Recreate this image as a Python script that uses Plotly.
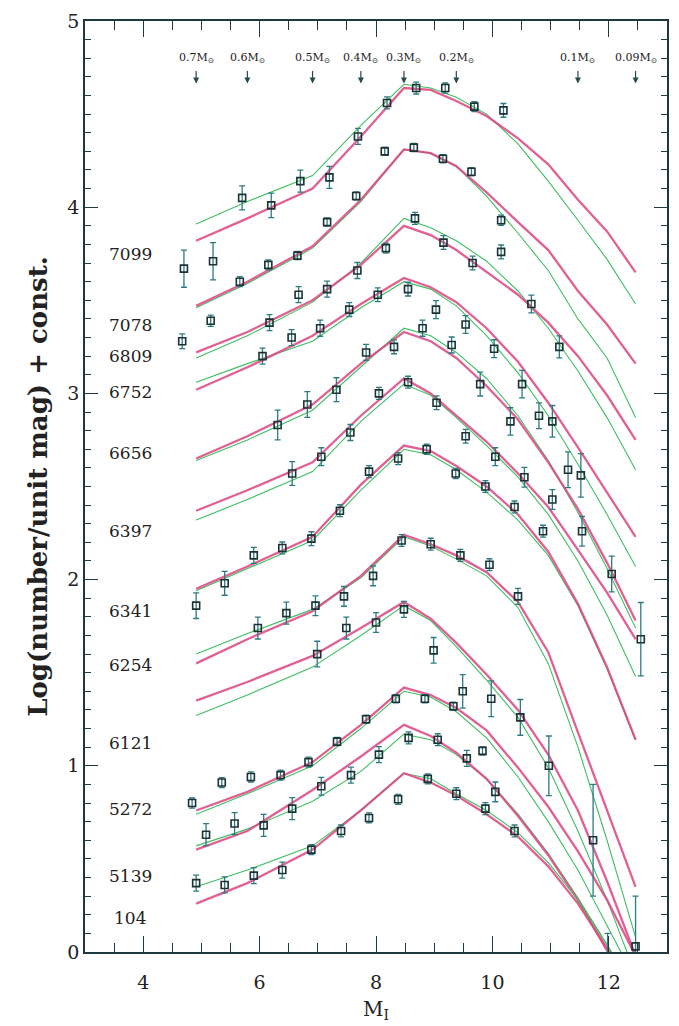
import plotly.graph_objects as go

# model grid (M_I) shared by all model curves
model_mag = [4.91, 5.79, 6.91, 7.74, 8.48, 8.94, 9.38, 9.90, 10.44, 10.96, 11.47, 11.97, 12.46]

# ---- NGC 7099
mag_7099 = [4.70, 5.20, 5.70, 6.20, 6.70, 7.20, 7.69, 8.19, 8.69, 9.19, 9.69, 10.19]
lf_7099 = [3.67, 3.71, 4.05, 4.01, 4.14, 4.16, 4.38, 4.56, 4.64, 4.64, 4.54, 4.52]
err_7099 = [0.10, 0.10, 0.064, 0.066, 0.059, 0.059, 0.043, 0.032, 0.032, 0.027, 0.027, 0.037]
red_7099 = [3.82, 3.94, 4.10, 4.38, 4.64, 4.63, 4.57, 4.49, 4.37, 4.23, 4.04, 3.87, 3.65]
green_7099 = [3.91, 4.03, 4.17, 4.44, 4.66, 4.64, 4.59, 4.50, 4.34, 4.14, 3.93, 3.72, 3.48]

# ---- NGC 7078
mag_7078 = [4.67, 5.16, 5.66, 6.15, 6.65, 7.16, 7.66, 8.15, 8.65, 9.15, 9.64, 10.15]
lf_7078 = [3.28, 3.39, 3.60, 3.69, 3.74, 3.92, 4.06, 4.30, 4.32, 4.26, 4.19, 3.93]
err_7078 = [0.04, 0.03, 0.027, 0.027, 0.022, 0.022, 0.022, 0.022, 0.022, 0.022, 0.022, 0.027]
red_7078 = [3.47, 3.60, 3.79, 4.04, 4.31, 4.29, 4.22, 4.08, 3.92, 3.77, 3.55, 3.37, 3.16]
green_7078 = [3.46, 3.59, 3.78, 4.03, 4.31, 4.29, 4.22, 4.06, 3.86, 3.66, 3.40, 3.19, 2.87]

# ---- NGC 6809
mag_6809 = [6.17, 6.67, 7.16, 7.68, 8.17, 8.67, 9.16, 9.66, 10.15, 10.67, 11.15]
lf_6809 = [3.38, 3.53, 3.56, 3.66, 3.78, 3.94, 3.81, 3.70, 3.76, 3.48, 3.25]
err_6809 = [0.043, 0.043, 0.043, 0.043, 0.027, 0.032, 0.037, 0.037, 0.037, 0.048, 0.059]
red_6809 = [3.22, 3.33, 3.50, 3.69, 3.90, 3.85, 3.77, 3.65, 3.53, 3.38, 3.20, 2.99, 2.75]
green_6809 = [3.19, 3.31, 3.49, 3.70, 3.94, 3.89, 3.82, 3.71, 3.55, 3.35, 3.12, 2.87, 2.59]

# ---- NGC 6752
mag_6752 = [6.05, 6.55, 7.04, 7.54, 8.03, 8.55, 9.03, 9.54, 10.03, 10.51, 11.03, 11.52]
lf_6752 = [3.20, 3.30, 3.35, 3.45, 3.53, 3.56, 3.45, 3.37, 3.24, 3.05, 2.85, 2.56]
err_6752 = [0.043, 0.043, 0.043, 0.037, 0.037, 0.037, 0.048, 0.048, 0.048, 0.074, 0.085, 0.117]
red_6752 = [3.02, 3.14, 3.31, 3.48, 3.62, 3.57, 3.49, 3.35, 3.17, 2.95, 2.71, 2.47, 2.23]
green_6752 = [3.06, 3.16, 3.28, 3.46, 3.60, 3.56, 3.47, 3.31, 3.11, 2.88, 2.62, 2.35, 2.07]

# ---- NGC 6656
mag_6656 = [6.31, 6.82, 7.32, 7.83, 8.31, 8.80, 9.30, 9.79, 10.31, 10.80, 11.30]
lf_6656 = [2.83, 2.94, 3.02, 3.22, 3.25, 3.35, 3.26, 3.05, 2.85, 2.88, 2.59]
err_6656 = [0.08, 0.069, 0.064, 0.043, 0.037, 0.043, 0.043, 0.064, 0.074, 0.069, 0.096]
red_6656 = [2.65, 2.77, 2.94, 3.16, 3.33, 3.28, 3.19, 3.04, 2.86, 2.63, 2.38, 2.09, 1.78]
green_6656 = [2.64, 2.75, 2.91, 3.14, 3.35, 3.31, 3.22, 3.08, 2.88, 2.64, 2.36, 2.06, 1.74]

# ---- NGC 6397
mag_6397 = [6.56, 7.06, 7.56, 8.05, 8.55, 9.04, 9.54, 10.05, 10.55, 11.03, 11.54, 12.05, 12.55]
lf_6397 = [2.57, 2.66, 2.79, 3.00, 3.06, 2.95, 2.77, 2.66, 2.55, 2.43, 2.26, 2.03, 1.68]
err_6397 = [0.064, 0.048, 0.043, 0.032, 0.032, 0.037, 0.037, 0.048, 0.053, 0.053, 0.08, 0.096, 0.197]
red_6397 = [2.37, 2.48, 2.63, 2.88, 3.08, 3.00, 2.88, 2.74, 2.57, 2.39, 2.16, 1.93, 1.68]
green_6397 = [2.32, 2.43, 2.58, 2.85, 3.05, 2.99, 2.87, 2.72, 2.55, 2.35, 2.10, 1.81, 1.48]

# ---- NGC 6341
mag_6341 = [4.91, 5.40, 5.90, 6.39, 6.89, 7.38, 7.88, 8.38, 8.87, 9.37, 9.88, 10.38, 10.87]
lf_6341 = [1.86, 1.98, 2.13, 2.17, 2.22, 2.37, 2.58, 2.65, 2.70, 2.57, 2.50, 2.39, 2.26]
err_6341 = [0.069, 0.064, 0.043, 0.032, 0.037, 0.032, 0.032, 0.032, 0.027, 0.027, 0.032, 0.032, 0.032]
red_6341 = [1.95, 2.07, 2.23, 2.51, 2.72, 2.69, 2.61, 2.50, 2.35, 2.15, 1.87, 1.53, 1.14]
green_6341 = [1.94, 2.06, 2.21, 2.48, 2.70, 2.67, 2.59, 2.47, 2.32, 2.13, 1.86, 1.52, 1.14]

# ---- NGC 6254
mag_6254 = [5.97, 6.46, 6.96, 7.45, 7.95, 8.44, 8.94, 9.45, 9.95, 10.44]
lf_6254 = [1.74, 1.82, 1.86, 1.91, 2.02, 2.21, 2.19, 2.13, 2.08, 1.91]
err_6254 = [0.059, 0.059, 0.053, 0.053, 0.053, 0.032, 0.032, 0.032, 0.032, 0.043]
red_6254 = [1.55, 1.68, 1.83, 2.02, 2.24, 2.19, 2.13, 2.04, 1.88, 1.61, 1.18, 0.76, 0.35]
green_6254 = [1.60, 1.71, 1.84, 2.01, 2.23, 2.18, 2.11, 2.02, 1.85, 1.55, 1.10, 0.60, 0.08]

# ---- NGC 6121
mag_6121 = [6.99, 7.49, 8.00, 8.48, 8.99, 9.49, 9.98, 10.48, 10.97, 11.73]
lf_6121 = [1.60, 1.74, 1.77, 1.84, 1.62, 1.40, 1.36, 1.26, 1.00, 0.60]
err_6121 = [0.069, 0.059, 0.053, 0.043, 0.069, 0.09, 0.096, 0.096, 0.16, 0.30]
red_6121 = [1.35, 1.45, 1.59, 1.74, 1.88, 1.79, 1.66, 1.49, 1.30, 1.06, 0.76, 0.38, -0.02]
green_6121 = [1.27, 1.38, 1.53, 1.70, 1.86, 1.78, 1.64, 1.46, 1.26, 0.99, 0.65, 0.28, -0.12]

# ---- NGC 5272
mag_5272 = [4.84, 5.35, 5.85, 6.36, 6.84, 7.33, 7.83, 8.34, 8.84, 9.33, 9.83]
lf_5272 = [0.80, 0.91, 0.94, 0.95, 1.02, 1.13, 1.25, 1.36, 1.36, 1.32, 1.08]
err_5272 = [0.027, 0.027, 0.027, 0.027, 0.027, 0.022, 0.022, 0.022, 0.022, 0.022, 0.022]
red_5272 = [0.76, 0.86, 1.02, 1.22, 1.42, 1.38, 1.31, 1.19, 0.99, 0.78, 0.54, 0.28, -0.02]
green_5272 = [0.74, 0.85, 1.00, 1.20, 1.40, 1.37, 1.29, 1.15, 0.94, 0.70, 0.44, 0.14, -0.15]

# ---- NGC 5139
mag_5139 = [5.08, 5.57, 6.07, 6.56, 7.06, 7.57, 8.05, 8.56, 9.06, 9.56, 10.05, 11.98]
lf_5139 = [0.63, 0.69, 0.68, 0.77, 0.89, 0.95, 1.06, 1.15, 1.14, 1.04, 0.86, -0.05]
err_5139 = [0.059, 0.059, 0.059, 0.059, 0.048, 0.043, 0.043, 0.032, 0.032, 0.043, 0.053, 0.15]
red_5139 = [0.55, 0.65, 0.87, 1.05, 1.22, 1.16, 1.07, 0.93, 0.73, 0.52, 0.28, 0.01, -0.26]
green_5139 = [0.57, 0.66, 0.81, 0.97, 1.17, 1.14, 1.06, 0.93, 0.74, 0.53, 0.29, 0.04, -0.23]

# ---- NGC 104
mag_104 = [4.91, 5.40, 5.90, 6.39, 6.89, 7.40, 7.88, 8.38, 8.89, 9.38, 9.88, 10.38, 12.46]
lf_104 = [0.37, 0.36, 0.41, 0.44, 0.55, 0.65, 0.72, 0.82, 0.93, 0.85, 0.77, 0.65, 0.03]
err_104 = [0.043, 0.043, 0.043, 0.043, 0.027, 0.032, 0.027, 0.027, 0.027, 0.032, 0.032, 0.032, 0.27]
red_104 = [0.26, 0.37, 0.55, 0.76, 0.96, 0.91, 0.84, 0.74, 0.62, 0.46, 0.26, 0.02, -0.23]
green_104 = [0.35, 0.44, 0.57, 0.76, 0.96, 0.93, 0.85, 0.76, 0.64, 0.48, 0.28, 0.04, -0.20]

cluster_names = ["7099", "7078", "6809", "6752", "6656", "6397",
                 "6341", "6254", "6121", "5272", "5139", "104"]
label_lf = [3.75, 3.37, 3.20, 3.01, 2.68, 2.26, 1.83, 1.54, 1.12, 0.77, 0.41, 0.18]
label_mag = 3.78

mass_labels = ["0.7", "0.6", "0.5", "0.4", "0.3", "0.2", "0.1", "0.09"]
mass_mag = [4.91, 5.79, 6.91, 7.74, 8.48, 9.38, 11.47, 12.46]

series = [
    (mag_7099, lf_7099, err_7099, red_7099, green_7099),
    (mag_7078, lf_7078, err_7078, red_7078, green_7078),
    (mag_6809, lf_6809, err_6809, red_6809, green_6809),
    (mag_6752, lf_6752, err_6752, red_6752, green_6752),
    (mag_6656, lf_6656, err_6656, red_6656, green_6656),
    (mag_6397, lf_6397, err_6397, red_6397, green_6397),
    (mag_6341, lf_6341, err_6341, red_6341, green_6341),
    (mag_6254, lf_6254, err_6254, red_6254, green_6254),
    (mag_6121, lf_6121, err_6121, red_6121, green_6121),
    (mag_5272, lf_5272, err_5272, red_5272, green_5272),
    (mag_5139, lf_5139, err_5139, red_5139, green_5139),
    (mag_104, lf_104, err_104, red_104, green_104),
]

RED = "rgba(220,68,128,0.85)"
GREEN = "#3fbf60"
DARK = "#1c3234"
ERR = "#2c7b82"
FONT = "DejaVu Serif"

fig = go.Figure()
for mag, lf, err, red, green in series:
    fig.add_trace(go.Scatter(x=model_mag, y=green, mode="lines",
                             line=dict(color=GREEN, width=1.1),
                             showlegend=False, hoverinfo="skip"))
    fig.add_trace(go.Scatter(x=model_mag, y=red, mode="lines",
                             line=dict(color=RED, width=2.3),
                             showlegend=False, hoverinfo="skip"))
for (mag, lf, err, red, green), name in zip(series, cluster_names):
    fig.add_trace(go.Scatter(x=mag, y=lf, mode="markers", name=name,
                             marker=dict(symbol="square-open", size=7, color=DARK,
                                         line=dict(width=1.6, color=DARK)),
                             error_y=dict(type="data", array=err, color=ERR,
                                          thickness=1.3, width=3),
                             showlegend=False))

annotations = []
for name, yv in zip(cluster_names, label_lf):
    annotations.append(dict(x=label_mag, y=yv, text=name, showarrow=False,
                            xanchor="center", yanchor="middle",
                            font=dict(family=FONT, size=17, color="#222")))
for lab, mx in zip(mass_labels, mass_mag):
    annotations.append(dict(x=mx, y=4.80, text=lab + "M<sub>⊙</sub>", showarrow=False,
                            xanchor="center", yanchor="middle",
                            font=dict(family=FONT, size=11, color="#222")))
    annotations.append(dict(x=mx, y=4.665, text="", showarrow=True, ax=0, ay=-14,
                            arrowhead=2, arrowsize=1, arrowwidth=1.2,
                            arrowcolor="#2a4a4c"))
annotations.append(dict(xref="paper", yref="paper", x=-0.082, y=0.50,
                        text="<b>Log(number/unit mag) + const.</b>", textangle=-90,
                        showarrow=False, xanchor="center", yanchor="middle",
                        font=dict(family=FONT, size=26, color="#222")))
annotations.append(dict(xref="paper", yref="paper", x=0.5, y=-0.062,
                        text="M<sub>I</sub>", showarrow=False,
                        xanchor="center", yanchor="middle",
                        font=dict(family=FONT, size=20, color="#222")))

axis_common = dict(showline=True, linecolor="#1f3a3d", linewidth=1.5, mirror="ticks",
                   ticks="inside", tickcolor="#1f3a3d", showgrid=False, zeroline=False,
                   tickfont=dict(family=FONT, size=19, color="#222"))
fig.update_layout(
    width=679, height=1026,
    margin=dict(l=85, r=10, t=12, b=74),
    paper_bgcolor="white", plot_bgcolor="white",
    annotations=annotations,
    xaxis=dict(range=[3, 13], tickvals=[4, 6, 8, 10, 12], ticklen=16, tickwidth=1.3,
               ticklabelstandoff=12,
               minor=dict(dtick=0.5, tick0=3, ticklen=9, ticks="inside", tickcolor="#1f3a3d"),
               **axis_common),
    yaxis=dict(range=[0, 5], tickvals=[0, 1, 2, 3, 4, 5], ticklen=13, tickwidth=1.3,
               minor=dict(dtick=0.1, tick0=0, ticklen=6, ticks="inside", tickcolor="#1f3a3d"),
               **axis_common),
)
fig.write_html("out.html")
